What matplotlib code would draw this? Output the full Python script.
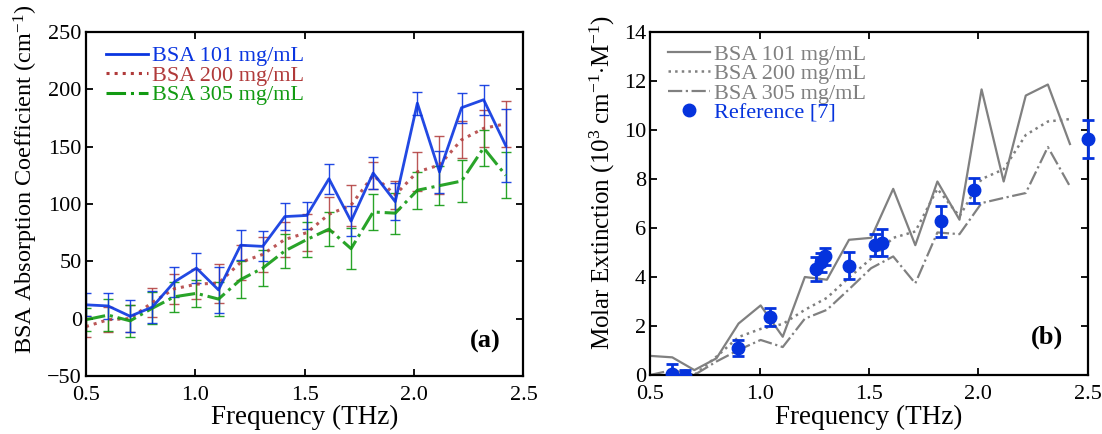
import numpy as np
import matplotlib
matplotlib.use('Agg')
import matplotlib.pyplot as plt
from matplotlib.lines import Line2D
from matplotlib.ticker import FormatStrFormatter, MultipleLocator

plt.rcParams['font.family'] = ['Liberation Serif', 'DejaVu Serif']
plt.rcParams['mathtext.fontset'] = 'custom'
plt.rcParams['mathtext.rm'] = 'Liberation Serif'
plt.rcParams['mathtext.it'] = 'Liberation Serif:italic'
plt.rcParams['mathtext.bf'] = 'Liberation Serif:bold'

# frequencies (THz)
freq = [0.500, 0.601, 0.702, 0.803, 0.904, 1.005, 1.106, 1.207, 1.308, 1.409,
        1.510, 1.611, 1.712, 1.813, 1.914, 2.015, 2.116, 2.217, 2.318, 2.419]

# (a) absorption coefficient, cm^-1
bsa101 = [12, 11, 2, 10, 32, 44, 25, 64, 63, 89, 90, 122, 85, 127, 102, 188, 128, 184, 191, 151]
bsa101_err = [10, 11, 14, 14, 13, 13, 20, 13, 13, 12, 12, 13, 13, 14, 16, 10, 18, 13, 13, 32]
bsa200 = [-7, -1, 0, 14, 26, 30, 31, 49, 56, 69, 75, 91, 99, 125, 108, 128, 134, 156, 166, 170]
bsa200_err = [9, 11, 12, 13, 13, 13, 17, 15, 15, 15, 16, 15, 18, 12, 12, 17, 25, 16, 16, 20]
bsa305 = [-1, 3, -2, 9, 19, 22, 17, 34, 44, 59, 69, 78, 61, 93, 92, 112, 116, 120, 149, 125]
bsa305_err = [10, 14, 14, 14, 13, 12, 15, 16, 16, 15, 15, 15, 18, 16, 18, 16, 17, 18, 16, 20]

# (b) molar extinction, 10^3 cm^-1 M^-1
ext101 = [0.78, 0.72, 0.2, 0.68, 2.1, 2.84, 1.56, 4.0, 3.89, 5.52,
          5.6, 7.6, 5.3, 7.9, 6.34, 11.66, 7.9, 11.41, 11.86, 9.43]
ext200 = [-0.38, -0.05, 0.0, 0.75, 1.55, 1.88, 2.08, 2.66, 3.15, 3.98,
          4.75, 5.6, 5.86, 7.6, 6.48, 8.0, 8.4, 9.8, 10.35, 10.45]
ext305 = [0.0, 0.2, 0.0, 0.55, 1.02, 1.43, 1.14, 2.3, 2.66, 3.5,
          4.36, 4.84, 3.74, 5.82, 5.75, 7.02, 7.23, 7.43, 9.31, 7.7]

ref_f = [0.60, 0.66, 0.90, 1.05, 1.26, 1.28, 1.30, 1.41, 1.53, 1.56, 1.83, 1.98, 2.50]
ref_v = [0.05, -0.05, 1.1, 2.36, 4.32, 4.6, 4.85, 4.47, 5.32, 5.4, 6.27, 7.54, 9.64]
ref_e = [0.4, 0.25, 0.33, 0.38, 0.5, 0.4, 0.35, 0.56, 0.45, 0.55, 0.65, 0.5, 0.76]

c_blue = '#0a35e0'
c_red = '#b03a3a'
c_green = '#129a12'
c_gray = '#808080'
c_ref = '#0533dd'

fig = plt.figure(figsize=(11.02, 4.34), dpi=100)
ax1 = fig.add_axes([0.078, 0.134, 0.397, 0.792])
ax2 = fig.add_axes([0.590, 0.136, 0.397, 0.790])

# ---- (a)
ax1.errorbar(freq, bsa200, yerr=bsa200_err, color=c_red, ls=':', lw=2.2,
             elinewidth=1.0, capsize=3.5, ecolor=c_red, alpha=0.85)
ax1.errorbar(freq, bsa305, yerr=bsa305_err, color=c_green, ls='-.', lw=2.2,
             elinewidth=1.0, capsize=3.5, ecolor=c_green, alpha=0.9)
ax1.errorbar(freq, bsa101, yerr=bsa101_err, color=c_blue, ls='-', lw=2.0,
             elinewidth=1.0, capsize=3.5, ecolor=c_blue, alpha=0.9)

ax1.set_xlim(0.5, 2.5)
ax1.set_ylim(-50, 250)
ax1.xaxis.set_major_locator(MultipleLocator(0.5))
ax1.xaxis.set_major_formatter(FormatStrFormatter('%.1f'))
ax1.yaxis.set_major_locator(MultipleLocator(50))
ax1.set_xlabel('Frequency (THz)', fontsize=19.5, labelpad=0)
ax1.set_ylabel('BSA Absorption Coefficient (cm$^{-1}$)', fontsize=17.5)
ax1.yaxis.set_label_coords(-0.105, 0.57)
ax1.text(0.947, 0.10, '(a)', transform=ax1.transAxes, fontsize=19,
         fontweight='bold', ha='right', va='center')

h1 = [Line2D([], [], color=c_blue, lw=2.0, ls='-'),
      Line2D([], [], color=c_red, lw=2.2, ls=':'),
      Line2D([], [], color=c_green, lw=2.2, ls='-.')]
leg1 = ax1.legend(h1, ['BSA 101 mg/mL', 'BSA 200 mg/mL', 'BSA 305 mg/mL'],
                  loc='upper left', bbox_to_anchor=(0.045, 0.96), frameon=False,
                  fontsize=16, handlelength=1.9, handletextpad=0.2,
                  labelspacing=-0.05, borderpad=0, borderaxespad=0)
for t, c in zip(leg1.get_texts(), [c_blue, c_red, c_green]):
    t.set_color(c)

# ---- (b)
ax2.plot(freq, ext101, color=c_gray, ls='-', lw=1.6)
ax2.plot(freq, ext200, color=c_gray, ls=':', lw=1.8)
ax2.plot(freq, ext305, color=c_gray, ls='-.', lw=1.6)
ax2.errorbar(ref_f[:-1], ref_v[:-1], yerr=ref_e[:-1], fmt='o', color=c_ref,
             ms=9, elinewidth=2, capsize=4, capthick=2, zorder=3)
eb = ax2.errorbar(ref_f[-1:], ref_v[-1:], yerr=ref_e[-1:], fmt='o', color=c_ref,
                  ms=9, elinewidth=2, capsize=4, capthick=2, zorder=5)
for a in eb.lines[0:1] + eb.lines[1] + eb.lines[2]:
    a.set_clip_on(False)

ax2.set_xlim(0.5, 2.5)
ax2.set_ylim(0, 14)
ax2.xaxis.set_major_locator(MultipleLocator(0.5))
ax2.xaxis.set_major_formatter(FormatStrFormatter('%.1f'))
ax2.yaxis.set_major_locator(MultipleLocator(2))
ax2.set_xlabel('Frequency (THz)', fontsize=19.5, labelpad=0)
ax2.set_ylabel('Molar Extinction (10$^3$ cm$^{-1}$$\\cdot$M$^{-1}$)', fontsize=18)
ax2.yaxis.set_label_coords(-0.075, 0.56)
ax2.text(0.944, 0.11, '(b)', transform=ax2.transAxes, fontsize=19,
         fontweight='bold', ha='right', va='center')

h2 = [Line2D([], [], color=c_gray, lw=1.6, ls='-'),
      Line2D([], [], color=c_gray, lw=1.8, ls=':'),
      Line2D([], [], color=c_gray, lw=1.6, ls='-.'),
      Line2D([], [], color=c_ref, marker='o', ms=9, ls='none')]
leg2 = ax2.legend(h2, ['BSA 101 mg/mL', 'BSA 200 mg/mL', 'BSA 305 mg/mL', 'Reference [7]'],
                  loc='upper left', bbox_to_anchor=(0.04, 0.965), frameon=False,
                  fontsize=16, handlelength=1.9, handletextpad=0.2,
                  labelspacing=-0.05, borderpad=0, borderaxespad=0)
for t, c in zip(leg2.get_texts(), [c_gray, c_gray, c_gray, c_ref]):
    t.set_color(c)

for ax in (ax1, ax2):
    for s in ax.spines.values():
        s.set_linewidth(1.6)
    ax.tick_params(direction='in', top=True, right=True, length=5, width=1.3,
                   labelsize=16)
    ax.tick_params(axis='x', pad=7.5)
    ax.tick_params(axis='y', pad=3)

fig.savefig('out.png', dpi=100)
